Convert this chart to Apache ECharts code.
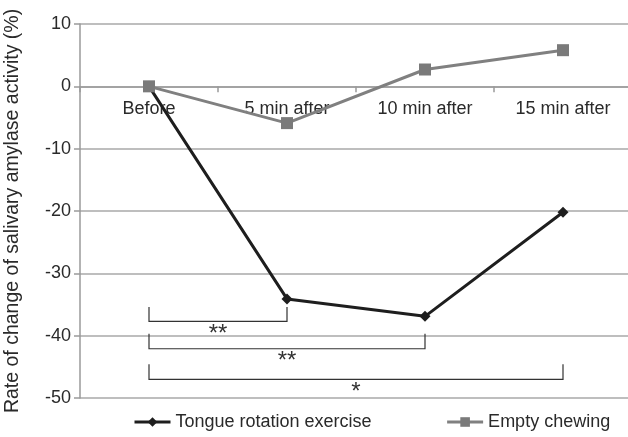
<!DOCTYPE html>
<html>
<head>
<meta charset="utf-8">
<script src="https://cdn.jsdelivr.net/npm/echarts@6/dist/echarts.min.js"></script>
<style>
  html, body { margin: 0; padding: 0; background: #fff; }
  #chart { width: 628px; height: 437px; }
</style>
</head>
<body>
<div id="chart"></div>
<script>
const categories = ['Before', '5 min after', '10 min after', '15 min after'];
const tongueValues = [0, -34.1, -36.9, -20.2];
const chewingValues = [0, -5.9, 2.7, 5.8];
const yTicks = { min: -50, max: 10, interval: 10 };

// significance brackets: from category, to category, top of legs, bar level, mark
const bracketFrom = [0, 0, 0];
const bracketTo = [1, 2, 3];
const bracketTop = [-35.4, -39.7, -44.6];
const bracketBottom = [-37.7, -42.1, -47.0];
const bracketMarks = ['**', '**', '*'];

const font = 'Liberation Sans';
const textColor = '#2a2a2a';
const axisGray = '#9a9a9a';

const chart = echarts.init(document.getElementById('chart'));

const bracketData = bracketMarks.map((mark, i) => [
  bracketFrom[i], bracketTo[i], bracketTop[i], bracketBottom[i], mark,
]);

const labelStyle = {
  fontFamily: font,
  fontSize: 18,
  color: textColor,
};

const option = {
  animation: false,
  grid: {
    left: 80,
    right: -4,
    top: 24,
    bottom: 39,
    outerBoundsMode: 'none',
  },
  legend: {
    bottom: 1,
    left: 128,
    itemWidth: 36,
    itemHeight: 12,
    itemGap: 74,
    textStyle: labelStyle,
    data: [
      { name: 'Tongue rotation exercise', lineStyle: { width: 3 } },
      { name: 'Empty chewing', lineStyle: { width: 3 } },
    ],
  },
  xAxis: [
    {
      // axis line and ticks sitting on zero
      type: 'category',
      data: categories,
      boundaryGap: true,
      axisLine: {
        onZero: true,
        lineStyle: { color: axisGray, width: 1.5 },
      },
      axisTick: {
        show: true,
        length: 6,
        lineStyle: { color: axisGray, width: 1.5 },
      },
      axisLabel: { show: false },
      z: 1,
    },
    {
      // category labels just under the zero line
      type: 'category',
      data: categories,
      position: 'bottom',
      offset: -312,
      boundaryGap: true,
      axisLine: { show: false },
      axisTick: { show: false },
      axisLabel: Object.assign({ margin: 14 }, labelStyle),
    },
  ],
  yAxis: {
    type: 'value',
    min: yTicks.min,
    max: yTicks.max,
    interval: yTicks.interval,
    name: 'Rate of change of salivary amylase activity (%)',
    nameLocation: 'middle',
    nameGap: 57,
    nameTextStyle: Object.assign({}, labelStyle, { fontSize: 19.5 }),
    axisLine: {
      show: true,
      lineStyle: { color: axisGray, width: 1.5 },
    },
    axisTick: {
      show: true,
      length: 6,
      lineStyle: { color: axisGray, width: 1.5 },
    },
    axisLabel: Object.assign({ margin: 9 }, labelStyle),
    splitLine: {
      lineStyle: { color: '#a8a8a8', width: 1.5 },
    },
  },
  series: [
    {
      name: 'Tongue rotation exercise',
      type: 'line',
      data: tongueValues,
      symbol: 'diamond',
      symbolSize: 11,
      color: '#1e1e1e',
      lineStyle: { width: 3, color: '#1e1e1e' },
      itemStyle: { color: '#1e1e1e' },
      z: 3,
    },
    {
      name: 'Empty chewing',
      type: 'line',
      data: chewingValues,
      symbol: 'rect',
      symbolSize: 12,
      color: '#7a7a7a',
      lineStyle: { width: 3, color: '#808080' },
      itemStyle: { color: '#7a7a7a' },
      z: 4,
    },
    {
      type: 'custom',
      data: bracketData,
      silent: true,
      z: 2,
      renderItem(params, api) {
        const x0 = api.value(0);
        const x1 = api.value(1);
        const top = api.value(2);
        const bottom = api.value(3);
        const p0 = api.coord([x0, top]);
        const p1 = api.coord([x0, bottom]);
        const p2 = api.coord([x1, bottom]);
        const p3 = api.coord([x1, top]);
        return {
          type: 'group',
          children: [
            {
              type: 'polyline',
              shape: { points: [p0, p1, p2, p3] },
              style: { stroke: '#333', lineWidth: 1.2, fill: null },
            },
            {
              type: 'text',
              x: (p1[0] + p2[0]) / 2,
              y: p1[1] + 1,
              style: {
                text: bracketMarks[params.dataIndex],
                fontFamily: font,
                fontSize: 24,
                fill: '#333',
                align: 'center',
                verticalAlign: 'top',
              },
            },
          ],
        };
      },
    },
  ],
};

chart.setOption(option);
</script>
</body>
</html>
